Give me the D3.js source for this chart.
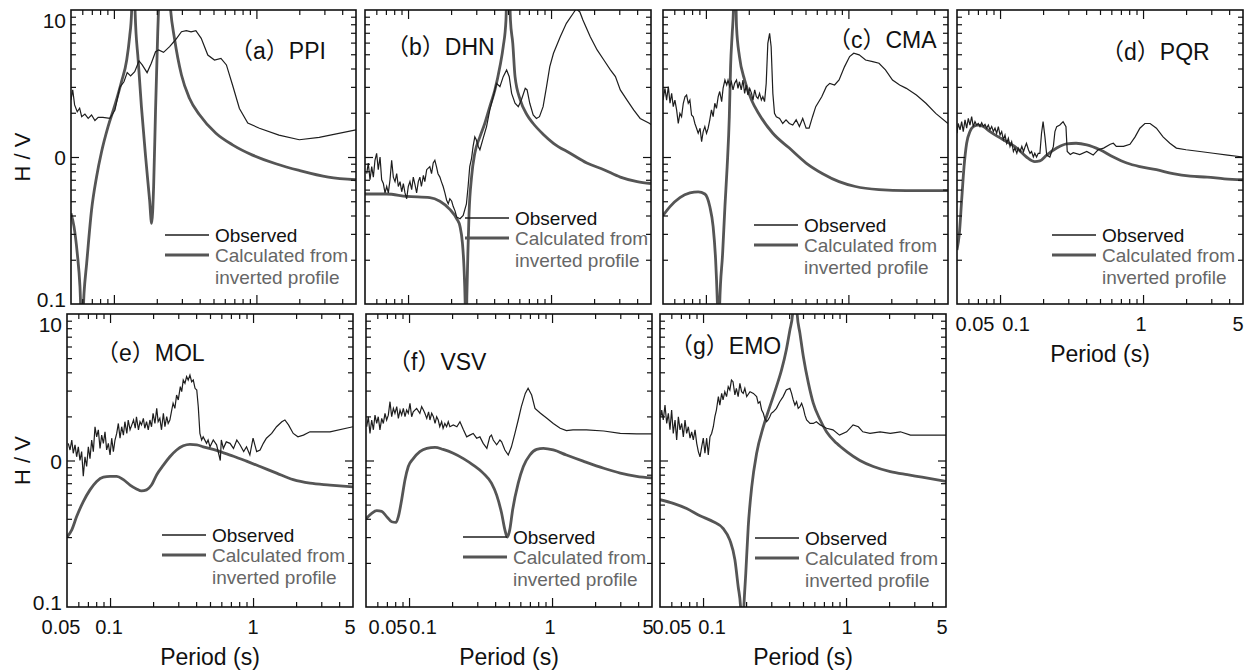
<!DOCTYPE html>
<html>
<head>
<meta charset="utf-8">
<script src="https://cdn.jsdelivr.net/npm/d3@7"></script>
<style>
  body { margin: 0; background: #fff; }
  svg { display: block; }
  text { font-family: "Liberation Sans", Arial, sans-serif; fill: #111; }
</style>
</head>
<body>
<div id="chart"></div>
<script>
// tick values and labels
const periodTicks = [0.05, 0.1, 1, 5];
const periodTickLabels = ["0.05", "0.1", "1", "5"];
const hvTicks = [0.1, 1, 10];
const hvTickLabels = ["0.1", "0", "10"];
const minorPeriod = [0.06, 0.07, 0.08, 0.09, 0.2, 0.3, 0.4, 0.5, 0.6, 0.7, 0.8, 0.9, 2, 3, 4];
const majorPeriod = [0.1, 1];
const minorHV = [0.2, 0.3, 0.4, 0.5, 0.6, 0.7, 0.8, 0.9, 2, 3, 4, 5, 6, 7, 8, 9];
const majorHV = [1];
const legendLabels = ["Observed", "Calculated from", "inverted profile"];
const titles = ["（a）PPI", "（b）DHN", "（c）CMA", "（d）PQR", "（e）MOL", "（f）VSV", "（g）EMO"];

// [period (s), H/V]
const obsPPI = [[.05,2.44],[.0514,2.86],[.053,2.26],[.0553,2.03],[.0575,2.15],[.0594,1.88],[.0626,1.96],[.066,1.83],[.0697,1.93],[.0736,1.77],[.0776,1.86],[.0837,1.86],[.0937,1.83],[.1017,2.09],[.110,2.98],[.1176,3.25],[.124,3.75],[.131,3.56],[.140,3.80],[.150,4.50],[.158,4.23],[.171,3.75],[.183,4.34],[.196,5.2],[.206,5.35],[.223,5.15],[.246,5.63],[.27,6.25],[.298,7.12],[.322,7.23],[.348,7.1],[.376,7.23],[.41,6.42],[.456,4.94],[.508,4.57],[.564,4.69],[.616,4.23],[.68,3.09],[.76,2.14],[.87,1.70],[1.05,1.57],[1.44,1.41],[2.0,1.31],[2.76,1.36],[5,1.53]];
const calPPI = [[.05,.414],[.0525,.336],[.0553,.222],[.0578,.131],[.0597,.06],[.0617,.118],[.0644,.189],[.0697,.436],[.0756,.734],[.082,1.09],[.091,1.61],[.1017,2.26],[.113,3.25],[.123,4.57],[.129,6.6],[.133,9.5],[.137,40],[.141,9.5],[.148,4.57],[.156,2.2],[.167,1.0],[.178,.51],[.184,.354],[.19,.628],[.196,2.09],[.203,6.94],[.206,10.5],[.227,60],[.25,10],[.266,6.42],[.298,3.61],[.339,2.51],[.4,1.93],[.52,1.45],[.68,1.21],[.94,1.03],[1.37,.90],[2.0,.81],[3.2,.73],[5,.70]];

const obsDHN = [[.0514,.77],[.0527,.91],[.0542,.70],[.0557,.86],[.0572,.73],[.0587,.95],[.0603,1.06],[.0619,.82],[.0637,1.0],[.0654,.70],[.0672,.66],[.069,.57],[.0709,.63],[.0728,.57],[.0748,.70],[.0768,.95],[.0789,.73],[.0811,.68],[.0833,.77],[.0855,.63],[.0879,.68],[.0903,.58],[.0927,.66],[.0952,.57],[.0978,.52],[.1004,.63],[.1031,.68],[.106,.60],[.1088,.73],[.1118,.65],[.1148,.57],[.118,.68],[.121,.73],[.124,.63],[.128,.75],[.131,.68],[.135,.82],[.142,.86],[.146,.77],[.150,.91],[.154,.95],[.158,.86],[.162,.77],[.167,.73],[.171,.68],[.176,.63],[.181,.57],[.186,.51],[.191,.48],[.196,.52],[.202,.50],[.207,.46],[.213,.43],[.219,.39],[.231,.38],[.243,.40],[.256,.48],[.263,.63],[.27,.86],[.278,.98],[.285,1.18],[.293,1.37],[.30,1.31],[.31,1.18],[.318,1.12],[.335,1.34],[.354,1.61],[.373,2.09],[.394,2.57],[.416,3.17],[.439,3.01],[.463,3.52],[.489,3.91],[.51,3.52],[.53,2.71],[.56,2.32],[.59,2.2],[.62,2.44],[.66,2.93],[.68,2.86],[.71,2.32],[.75,1.93],[.79,1.83],[.83,1.88],[.88,2.2],[.93,3.01],[.98,4.12],[1.04,5.08],[1.16,6.58],[1.28,8.11],[1.43,9.5],[1.5,10.2],[1.59,9.7],[1.67,8.55],[1.88,6.58],[2.1,5.35],[2.34,4.57],[2.6,3.91],[2.82,3.52],[3.05,2.86],[3.4,2.44],[3.78,2.09],[4.2,1.83],[4.9,1.69],[5,1.66]];
const calDHN = [[.05,.56],[.0709,.56],[.098,.54],[.142,.53],[.167,.50],[.196,.44],[.219,.38],[.231,.336],[.24,.26],[.246,.18],[.251,.1],[.254,.05],[.258,.118],[.262,.22],[.267,.41],[.278,.73],[.293,1.06],[.318,1.37],[.344,1.69],[.373,2.2],[.405,2.86],[.439,4.12],[.463,5.63],[.484,8.55],[.50,40],[.52,8.55],[.54,5.93],[.56,3.52],[.61,2.44],[.68,1.93],[.75,1.69],[.88,1.43],[1.04,1.24],[1.36,1.06],[1.78,.91],[2.34,.82],[3.05,.73],[4.0,.68],[5,.66]];

const obsCMA = [[.050,2.44],[.0516,2.93],[.053,2.44],[.0545,3.01],[.056,2.32],[.0575,2.71],[.059,2.2],[.0606,2.44],[.0623,2.09],[.064,1.69],[.0657,1.98],[.0675,1.88],[.0694,2.32],[.0713,2.57],[.0732,2.64],[.0752,2.32],[.0772,2.44],[.0793,1.93],[.0815,1.88],[.0837,1.69],[.086,1.57],[.0883,1.45],[.091,1.57],[.0933,1.27],[.0957,1.49],[.0983,1.61],[.101,1.45],[.1037,1.57],[.1065,1.79],[.1094,2.09],[.1124,1.88],[.1155,2.32],[.1186,2.14],[.122,2.57],[.125,2.79],[.129,2.38],[.132,2.93],[.136,3.34],[.140,3.09],[.143,3.34],[.147,3.01],[.151,3.25],[.155,2.86],[.159,3.17],[.164,3.34],[.168,2.93],[.172,3.25],[.177,2.86],[.182,3.34],[.187,2.71],[.192,3.09],[.197,2.64],[.203,2.93],[.209,2.71],[.214,2.44],[.22,2.86],[.226,2.57],[.232,2.5],[.238,2.71],[.245,2.44],[.251,2.57],[.258,2.38],[.265,3.17],[.272,5.93],[.28,6.94],[.287,5.63],[.295,2.71],[.303,1.98],[.312,1.88],[.329,1.83],[.346,1.69],[.365,1.79],[.385,1.69],[.407,1.65],[.43,1.79],[.453,1.61],[.478,1.83],[.505,1.57],[.53,1.57],[.56,1.88],[.59,2.2],[.65,2.57],[.70,3.01],[.74,3.17],[.80,3.09],[.86,3.34],[.94,4.12],[1.02,4.82],[1.09,5.08],[1.19,4.95],[1.32,4.57],[1.48,4.45],[1.64,4.34],[1.82,3.91],[2.04,3.34],[2.29,3.09],[2.55,2.93],[3.0,2.64],[3.5,2.32],[4.1,1.98],[5,1.69]];
const calCMA = [[.05,.40],[.056,.46],[.0657,.53],[.0772,.57],[.0883,.58],[.0983,.56],[.1065,.46],[.1124,.336],[.117,.20],[.1205,.1],[.123,.05],[.125,.1],[.131,.22],[.136,.46],[.141,.86],[.146,1.88],[.149,4.12],[.153,6.94],[.156,10],[.159,40],[.164,7.7],[.172,4.82],[.187,3.34],[.209,2.44],[.238,1.93],[.295,1.45],[.385,1.15],[.505,.91],[.66,.77],[.86,.68],[1.12,.63],[1.64,.60],[2.55,.59],[5,.59]];

const obsPQR = [[.05,1.45],[.051,1.69],[.0525,1.53],[.0539,1.74],[.0553,1.49],[.0569,1.79],[.0584,1.57],[.06,1.83],[.0616,1.65],[.0633,1.88],[.065,1.61],[.0668,1.74],[.0686,1.65],[.0705,1.69],[.0724,1.61],[.0744,1.71],[.0764,1.62],[.0785,1.67],[.0806,1.57],[.0828,1.65],[.0851,1.53],[.0874,1.61],[.0898,1.49],[.0922,1.57],[.0947,1.45],[.0973,1.61],[.1,1.41],[.1027,1.49],[.1055,1.31],[.1083,1.41],[.1113,1.24],[.1143,1.34],[.1174,1.18],[.1206,1.27],[.124,1.09],[.127,1.15],[.131,1.06],[.134,1.15],[.138,1.09],[.142,1.18],[.146,1.09],[.15,1.18],[.153,1.24],[.158,1.12],[.162,1.06],[.166,1.09],[.171,1.0],[.175,1.06],[.18,1.0],[.185,1.06],[.19,1.06],[.195,1.45],[.2,1.74],[.206,1.37],[.212,1.03],[.223,1.0],[.236,1.18],[.242,1.49],[.249,1.61],[.262,1.65],[.276,1.74],[.289,1.61],[.295,1.09],[.31,1.04],[.325,1.07],[.361,1.04],[.404,1.09],[.448,1.03],[.485,1.12],[.53,1.15],[.59,1.22],[.62,1.24],[.65,1.18],[.73,1.18],[.81,1.22],[.88,1.37],[.95,1.57],[1.03,1.69],[1.12,1.69],[1.24,1.57],[1.38,1.37],[1.54,1.24],[1.71,1.15],[2.0,1.12],[2.5,1.09],[3.1,1.06],[3.9,1.03],[5,1.0]];
const calPQR = [[.05,.233],[.0519,.30],[.0539,.51],[.056,.86],[.0584,1.24],[.0616,1.49],[.065,1.61],[.0705,1.65],[.0764,1.61],[.0851,1.49],[.0973,1.37],[.1113,1.27],[.131,1.15],[.153,1.0],[.175,.93],[.19,.94],[.212,1.03],[.249,1.15],[.292,1.23],[.34,1.24],[.404,1.21],[.5,1.12],[.62,1.0],[.77,.91],[.95,.86],[1.24,.82],[1.62,.77],[2.14,.74],[2.81,.73],[3.7,.71],[5,.70]];

const obsMOL = [[.051,1.31],[.0525,1.18],[.054,1.38],[.0553,1.12],[.0569,1.28],[.0584,1.06],[.060,1.24],[.0616,1.0],[.0633,1.15],[.065,.78],[.0668,1.06],[.0686,.91],[.0705,1.24],[.0724,1.03],[.0744,1.38],[.0764,1.15],[.0785,1.70],[.0806,1.45],[.0828,1.62],[.0851,1.21],[.0874,1.49],[.0898,1.31],[.0922,1.57],[.0947,1.18],[.0973,1.31],[.1,1.09],[.1027,1.42],[.1055,1.15],[.1083,1.38],[.1113,1.53],[.1143,1.79],[.1174,1.42],[.1206,1.70],[.124,1.49],[.127,1.84],[.131,1.53],[.134,1.89],[.138,1.62],[.142,1.75],[.146,1.89],[.15,1.66],[.153,1.99],[.158,1.62],[.162,1.84],[.166,1.75],[.171,1.94],[.175,1.66],[.18,1.84],[.185,1.62],[.19,1.89],[.195,1.70],[.2,2.10],[.206,1.79],[.212,2.27],[.217,1.84],[.223,1.94],[.229,1.62],[.236,2.10],[.242,1.70],[.249,1.99],[.255,1.79],[.262,1.89],[.27,2.21],[.276,2.46],[.284,2.27],[.292,2.80],[.30,2.59],[.31,3.19],[.317,2.95],[.325,3.54],[.334,3.36],[.343,3.74],[.352,3.54],[.362,3.83],[.372,3.45],[.382,3.54],[.393,3.11],[.404,3.03],[.414,2.33],[.425,1.53],[.437,1.38],[.448,1.45],[.473,1.31],[.485,1.38],[.50,1.24],[.527,1.38],[.556,1.28],[.59,1.0],[.60,1.38],[.62,1.21],[.65,1.34],[.69,1.31],[.73,1.21],[.77,1.38],[.81,1.28],[.86,1.15],[.90,1.24],[.95,1.09],[1.0,1.42],[1.06,1.15],[1.12,1.18],[1.18,1.31],[1.24,1.42],[1.35,1.53],[1.46,1.70],[1.59,1.84],[1.67,1.89],[1.77,1.75],[1.91,1.53],[2.06,1.45],[2.25,1.49],[2.5,1.57],[2.94,1.57],[3.45,1.57],[5,1.70]];
const calMOL = [[.05,.30],[.054,.336],[.0584,.414],[.065,.524],[.0724,.63],[.0806,.72],[.0898,.77],[.1,.78],[.1113,.78],[.124,.74],[.138,.68],[.153,.64],[.166,.62],[.18,.63],[.195,.68],[.212,.80],[.236,.93],[.262,1.06],[.292,1.18],[.325,1.26],[.362,1.29],[.404,1.28],[.448,1.24],[.527,1.19],[.62,1.13],[.73,1.07],[.90,.99],[1.12,.91],[1.46,.82],[1.91,.74],[2.5,.70],[3.45,.68],[5,.66]];

const obsVSV = [[.0506,1.70],[.0519,1.99],[.0533,1.53],[.0548,1.89],[.0563,1.62],[.0578,2.04],[.0594,1.79],[.0609,1.99],[.0626,1.62],[.0644,1.94],[.0661,1.79],[.0679,2.10],[.0697,1.89],[.0716,2.04],[.0736,2.52],[.0756,1.99],[.0777,2.27],[.0797,2.10],[.082,2.33],[.0842,1.94],[.0865,2.21],[.0888,2.04],[.0912,2.27],[.0937,1.99],[.0962,2.21],[.0988,2.10],[.1015,2.46],[.1043,1.99],[.107,2.15],[.113,2.27],[.119,2.10],[.1225,2.33],[.126,2.21],[.129,2.10],[.133,1.94],[.137,2.15],[.140,1.89],[.144,2.10],[.148,1.99],[.152,1.79],[.156,1.99],[.16,1.89],[.164,1.70],[.169,1.84],[.173,1.66],[.178,1.79],[.183,1.70],[.188,1.84],[.193,1.70],[.204,1.75],[.216,1.70],[.227,1.84],[.24,1.62],[.253,1.45],[.266,1.49],[.281,1.53],[.297,1.42],[.313,1.45],[.33,1.31],[.35,1.21],[.367,1.45],[.377,1.49],[.388,1.38],[.41,1.28],[.432,1.38],[.444,1.34],[.468,1.18],[.494,1.09],[.52,1.24],[.55,1.53],[.58,1.89],[.61,2.33],[.65,2.87],[.68,3.11],[.72,2.80],[.76,2.27],[.83,2.10],[.92,1.94],[1.02,1.79],[1.14,1.66],[1.26,1.60],[1.4,1.62],[1.74,1.62],[2.3,1.59],[3.0,1.53],[3.9,1.52],[5,1.52]];
const calVSV = [[.05,.40],[.0548,.436],[.0594,.455],[.0644,.45],[.0697,.414],[.0756,.382],[.081,.378],[.0842,.414],[.0888,.54],[.0937,.74],[.0988,.91],[.107,1.03],[.119,1.15],[.133,1.21],[.152,1.23],[.173,1.19],[.204,1.12],[.24,1.03],[.281,.93],[.33,.82],[.377,.70],[.41,.58],[.444,.436],[.468,.336],[.486,.30],[.506,.336],[.53,.46],[.58,.70],[.63,.91],[.70,1.09],[.78,1.19],[.87,1.21],[1.02,1.18],[1.26,1.09],[1.65,.99],[2.3,.885],[3.0,.82],[3.9,.78],[5,.76]];

const obsEMO = [[.0506,1.99],[.0514,2.21],[.0527,1.89],[.0542,2.39],[.0557,1.79],[.0572,2.10],[.0587,1.62],[.0603,2.21],[.0619,1.53],[.0637,1.89],[.0654,1.38],[.0672,1.99],[.069,1.62],[.0709,1.79],[.0728,1.45],[.0748,1.89],[.0768,1.53],[.0789,1.70],[.0811,1.42],[.0833,1.57],[.0855,1.38],[.0879,1.62],[.0903,1.31],[.0927,1.15],[.0952,1.06],[.0978,1.24],[.1004,1.42],[.1031,1.12],[.106,1.42],[.1088,1.09],[.1118,1.45],[.1148,1.53],[.118,1.70],[.121,1.99],[.124,2.21],[.128,2.73],[.131,2.39],[.135,2.87],[.138,2.59],[.142,2.95],[.146,2.73],[.150,3.19],[.154,3.03],[.158,3.54],[.162,3.45],[.167,2.80],[.171,3.11],[.176,2.73],[.181,3.36],[.186,2.95],[.191,2.87],[.196,3.11],[.202,2.73],[.213,2.95],[.225,2.87],[.237,2.73],[.243,2.46],[.25,2.52],[.257,2.21],[.264,2.10],[.27,1.94],[.278,1.84],[.285,1.89],[.293,1.99],[.30,2.10],[.31,2.15],[.326,2.27],[.344,2.52],[.363,2.73],[.382,3.03],[.405,3.11],[.416,2.87],[.427,2.59],[.439,2.39],[.451,2.52],[.463,2.27],[.476,2.33],[.489,2.46],[.503,2.27],[.516,2.04],[.53,1.89],[.56,1.79],[.59,1.79],[.62,1.84],[.66,1.75],[.73,1.66],[.81,1.62],[.90,1.49],[1.01,1.57],[1.12,1.75],[1.22,1.70],[1.31,1.57],[1.47,1.53],[1.73,1.57],[2.04,1.53],[2.40,1.57],[2.82,1.49],[3.4,1.49],[4.57,1.49],[5,1.49]];
const calEMO = [[.05,.54],[.0619,.51],[.0768,.47],[.0952,.42],[.118,.382],[.138,.344],[.154,.286],[.167,.21],[.176,.138],[.183,.1],[.188,.05],[.193,.1],[.199,.17],[.207,.353],[.219,.66],[.237,1.12],[.264,1.70],[.293,2.33],[.326,3.19],[.354,4.15],[.382,5.68],[.405,7.78],[.423,10],[.439,40],[.455,10],[.476,7.38],[.503,5.11],[.546,3.36],[.59,2.46],[.66,1.89],[.73,1.57],[.86,1.31],[1.01,1.15],[1.25,1.0],[1.55,.91],[2.04,.84],[2.68,.80],[3.4,.77],[5,.72]];

// panel layout: position, title offset, legend offset, which axes get labels
const panels = [
  {obs: obsPPI, cal: calPPI, title: titles[0], x: 71,  y: 10,  w: 285, h: 294, tx: 171, ty: 41, lx: 144, ly: 225, yLab: true,  xLab: null},
  {obs: obsDHN, cal: calDHN, title: titles[1], x: 365, y: 10,  w: 286, h: 294, tx: 33,  ty: 37, lx: 150, ly: 208, yLab: false, xLab: null},
  {obs: obsCMA, cal: calCMA, title: titles[2], x: 663, y: 10,  w: 285, h: 294, tx: 177, ty: 30, lx: 141, ly: 215, yLab: false, xLab: null},
  {obs: obsPQR, cal: calPQR, title: titles[3], x: 957, y: 10,  w: 286, h: 294, tx: 156, ty: 42, lx: 145, ly: 225, yLab: false, xLab: [18, 16, -2, -5]},
  {obs: obsMOL, cal: calMOL, title: titles[4], x: 67,  y: 314, w: 286, h: 293, tx: 41,  ty: 39, lx: 145, ly: 221, yLab: true,  xLab: [-6, -1, 0, -3]},
  {obs: obsVSV, cal: calVSV, title: titles[5], x: 366, y: 314, w: 286, h: 293, tx: 34,  ty: 48, lx: 147, ly: 223, yLab: false, xLab: [22, 14, -2, -4]},
  {obs: obsEMO, cal: calEMO, title: titles[6], x: 660, y: 314, w: 286, h: 293, tx: 22,  ty: 32, lx: 145, ly: 224, yLab: false, xLab: [12, 9, 1, -4]}
];

const width = 1253, height = 672;
const svg = d3.select("#chart").append("svg")
  .attr("width", width)
  .attr("height", height);
svg.append("rect").attr("width", width).attr("height", height).attr("fill", "#fff");

const obsColor = "#1e1e1e";
const calColor = "#555";

panels.forEach((p, i) => {
  const g = svg.append("g").attr("transform", `translate(${p.x},${p.y})`);
  const x = d3.scaleLog().domain([0.05, 5]).range([0, p.w]);
  const y = d3.scaleLog().domain([0.1, 10]).range([p.h, 0]);

  // clip curves to the frame
  g.append("clipPath").attr("id", "clip" + i)
    .append("rect").attr("width", p.w).attr("height", p.h);

  const line = d3.line()
    .x(d => x(d[0]))
    .y(d => y(d[1]));

  const curves = g.append("g").attr("clip-path", `url(#clip${i})`);
  curves.append("path")
    .datum(p.cal)
    .attr("d", line.curve(d3.curveMonotoneX))
    .attr("fill", "none")
    .attr("stroke", calColor)
    .attr("stroke-width", 2.8);
  curves.append("path")
    .datum(p.obs)
    .attr("d", line.curve(d3.curveLinear))
    .attr("fill", "none")
    .attr("stroke", obsColor)
    .attr("stroke-width", 1.2);

  // inward ticks on all four sides
  const tickAxes = [
    [d3.axisBottom(x).tickValues(minorPeriod).tickSize(-5), `translate(0,${p.h})`],
    [d3.axisBottom(x).tickValues(majorPeriod).tickSize(-9), `translate(0,${p.h})`],
    [d3.axisTop(x).tickValues(minorPeriod).tickSize(-5), null],
    [d3.axisTop(x).tickValues(majorPeriod).tickSize(-9), null],
    [d3.axisLeft(y).tickValues(minorHV).tickSize(-5), null],
    [d3.axisLeft(y).tickValues(majorHV).tickSize(-8), null],
    [d3.axisRight(y).tickValues(minorHV).tickSize(-5), `translate(${p.w},0)`],
    [d3.axisRight(y).tickValues(majorHV).tickSize(-8), `translate(${p.w},0)`]
  ];
  tickAxes.forEach(([ax, tr]) => {
    const a = g.append("g").call(ax.tickFormat(""));
    if (tr) a.attr("transform", tr);
    a.select(".domain").remove();
    a.selectAll("line").attr("stroke", "#111").attr("stroke-width", 1.2);
  });

  g.append("rect")
    .attr("width", p.w)
    .attr("height", p.h)
    .attr("fill", "none")
    .attr("stroke", "#111")
    .attr("stroke-width", 1.6);

  // title: latin letters in Liberation Sans, full-width brackets fall back to CJK
  g.append("text")
    .attr("x", p.tx - 12)
    .attr("y", p.ty)
    .attr("dy", "0.35em")
    .style("font-family", "'Liberation Sans', 'Noto Sans CJK JP', sans-serif")
    .attr("font-size", 23)
    .text(p.title);

  // legend
  const lg = g.append("g").attr("transform", `translate(${p.lx},${p.ly})`);
  lg.append("line").attr("x1", -50).attr("x2", -6).attr("y1", 0).attr("y2", 0)
    .attr("stroke", obsColor).attr("stroke-width", 1.4);
  lg.append("line").attr("x1", -50).attr("x2", -6).attr("y1", 20).attr("y2", 20)
    .attr("stroke", calColor).attr("stroke-width", 2.8);
  lg.selectAll("text")
    .data(legendLabels)
    .enter()
    .append("text")
    .attr("x", 0)
    .attr("y", (d, k) => k === 0 ? 0 : 20 + (k - 1) * 22)
    .attr("dy", "0.35em")
    .attr("font-size", 19)
    .style("fill", (d, k) => k === 0 ? "#111" : "#666")
    .text(d => d);

  // y tick labels and axis title
  if (p.yLab) {
    g.selectAll(".ylab")
      .data(hvTicks)
      .enter()
      .append("text")
      .attr("x", -5)
      .attr("y", (d, k) => y(d) + (k === 0 ? -4 : k === 2 ? 11 : 1))
      .attr("dy", "0.35em")
      .attr("text-anchor", "end")
      .attr("font-size", 21)
      .text((d, k) => hvTickLabels[k]);
    g.append("text")
      .attr("transform", `translate(${-p.x + 22},${y(1)}) rotate(-90)`)
      .attr("dy", "0.35em")
      .attr("text-anchor", "middle")
      .attr("font-size", 22)
      .text("H / V");
  }

  // x tick labels and axis title
  if (p.xLab) {
    g.selectAll(".xlab")
      .data(periodTicks)
      .enter()
      .append("text")
      .attr("x", (d, k) => x(d) + p.xLab[k])
      .attr("y", p.h + 20)
      .attr("dy", "0.35em")
      .attr("text-anchor", "middle")
      .attr("font-size", 20)
      .text((d, k) => periodTickLabels[k]);
    g.append("text")
      .attr("x", p.w / 2)
      .attr("y", p.h + 50)
      .attr("dy", "0.35em")
      .attr("text-anchor", "middle")
      .attr("font-size", 23)
      .text("Period (s)");
  }
});
</script>
</body>
</html>
